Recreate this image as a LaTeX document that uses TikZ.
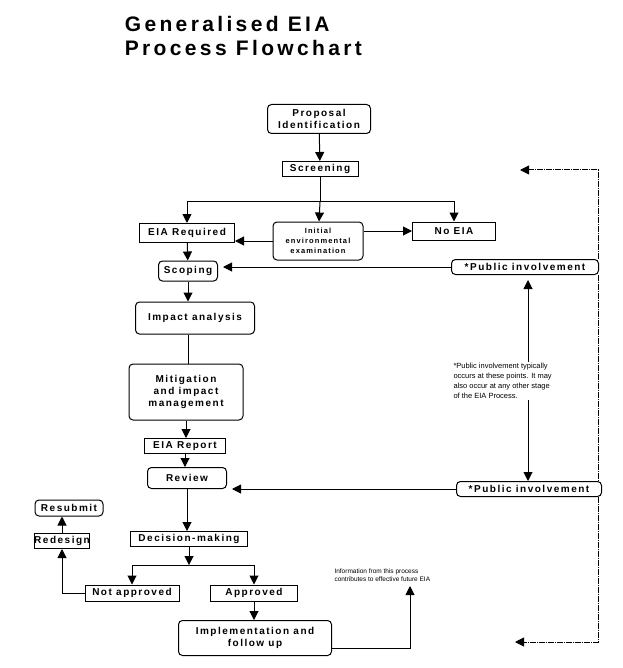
\documentclass[tikz,border=0pt]{standalone}
\usepackage{fontspec}
\setmainfont{Liberation Sans}
\newfontfamily\spaced[LetterSpace=15]{Liberation Sans}
\newfontfamily\titlefont[LetterSpace=16]{Liberation Sans}
\usetikzlibrary{arrows.meta}

\tikzset{
  box/.style={draw, fill=white, font=\spaced\bfseries\fontsize{10}{12}\selectfont, align=center, inner sep=0pt},
  rbox/.style={box, rounded corners=4pt},
  arr/.style={-{Triangle[width=9pt,length=9pt]}},
  dashback/.style={dash pattern=on 6pt off 1pt on 1pt off 1pt}
}

\begin{document}
\begin{tikzpicture}[x=1pt, y=-1pt, line width=1pt]
	\useasboundingbox (0,0) rectangle (622,668);
	
	\node[anchor=west, font=\titlefont\bfseries\fontsize{21}{24}\selectfont, align=left] (title) at (121,36) {Generalised EIA\\Process Flowchart};
	
	\node[rbox, minimum width=103pt, minimum height=29pt] (prop) at (319,119) {Proposal\\Identification};
	\node[box, minimum width=76pt, minimum height=15pt] (screen) at (320,169) {Screening};
	\node[box, minimum width=95pt, minimum height=19pt] (eiareq) at (187,233) {EIA Required};
	\node[rbox, minimum width=90pt, minimum height=38pt, font=\spaced\bfseries\fontsize{7.5}{10}\selectfont] (iee) at (318,241) {Initial\\environmental\\examination};
	\node[box, minimum width=83pt, minimum height=18pt] (noeia) at (454,231) {No EIA};
	\node[rbox, minimum width=59pt, minimum height=20pt] (scope) at (188,271) {Scoping};
	\node[rbox, minimum width=147pt, minimum height=15pt] (pub1) at (525,267) {*Public involvement};
	\node[rbox, minimum width=119pt, minimum height=32pt] (impact) at (195,318) {Impact analysis};
	\node[rbox, minimum width=114pt, minimum height=56pt] (mitig) at (186,392) {Mitigation\\and impact\\management};
	\node[box, minimum width=81pt, minimum height=15pt] (report) at (185,446) {EIA Report};
	\node[rbox, minimum width=79pt, minimum height=21pt] (review) at (187,478) {Review};
	\node[rbox, minimum width=145pt, minimum height=15pt] (pub2) at (529,489) {*Public involvement};
	\node[fill=white, anchor=west, align=left, inner sep=1pt, font=\fontsize{7.5}{10}\selectfont] (note) at (452,381) {*Public involvement typically\\occurs at these points. It may\\also occur at any other stage\\of the EIA Process.};
	\node[box, minimum width=117pt, minimum height=15pt] (decide) at (189,539) {Decision-making};
	\node[box, minimum width=94pt, minimum height=16pt] (notapp) at (132,593) {Not approved};
	\node[box, minimum width=87pt, minimum height=16pt] (app) at (254,593) {Approved};
	\node[box, minimum width=55pt, minimum height=15pt] (redesign) at (62,541) {Redesign};
	\node[rbox, minimum width=68pt, minimum height=16pt] (resub) at (69,508) {Resubmit};
	\node[rbox, minimum width=153pt, minimum height=35pt] (impl) at (255,638) {Implementation and\\follow up};
	\node[anchor=west, align=left, inner sep=0pt, font=\fontsize{6.5}{8.5}\selectfont] (info) at (334,575) {Information from this process\\contributes to effective future EIA};
	
	\coordinate (split1) at (320,202);
	\coordinate (split2) at (189,565);
	\coordinate (infotip) at (410,586);
	\coordinate (dtop) at (598,170);
	\coordinate (dtip) at (520,170);
	\coordinate (dbot) at (598,642);
	\coordinate (dend) at (515,642);
	
	% main chain
	\draw[arr] (prop) -- (screen);
	\draw (screen) -- (split1);
	\draw[arr] (split1) -- (iee);
	\draw[arr] (split1) -| (eiareq);
	\draw[arr] (split1) -| (noeia);
	\draw[arr] (iee) -- (iee -| eiareq.east);
	\draw[arr] (iee.east |- noeia) -- (noeia);
	\draw[arr] (eiareq) -- (scope);
	\draw[arr] (scope) -- (scope |- impact.north);
	\draw (impact.south -| scope) -- (scope |- mitig.north);
	\draw[arr] (mitig) -- (mitig |- report.north);
	\draw[arr] (report) -- (report |- review.north);
	\draw[arr] (review) -- (review |- decide.north);
	\draw[arr] (decide) -- (split2);
	\draw[arr] (split2) -| (notapp);
	\draw[arr] (split2) -| (app);
	\draw[arr] (notapp) -| (redesign);
	\draw[arr] (redesign) -- (redesign |- resub.south);
	\draw[arr] (app) -- (app |- impl.north);
	\draw[arr] (impl.east |- 0,648) -| (infotip);
	
	% public involvement
	\draw[arr] (pub1) -- ([xshift=5pt]scope.east |- pub1);
	\draw[arr] (pub2.west) -- ([xshift=5pt]review.east |- pub2);
	\draw[arr] (note.north -| 528,0) -- (528,280);
	\draw[arr] (note.south -| 528,0) -- (528,481);
	
	% feedback loop
	\draw[dashback, arr] (dtop |- pub1.north) -- (dtop) -- (dtip);
	\draw[dashback] (dtop |- pub1.south) -- (dtop |- pub2.north);
	\draw[dashback, arr] (dtop |- pub2.south) -- (dbot) -- (dend);
\end{tikzpicture}
\end{document}
